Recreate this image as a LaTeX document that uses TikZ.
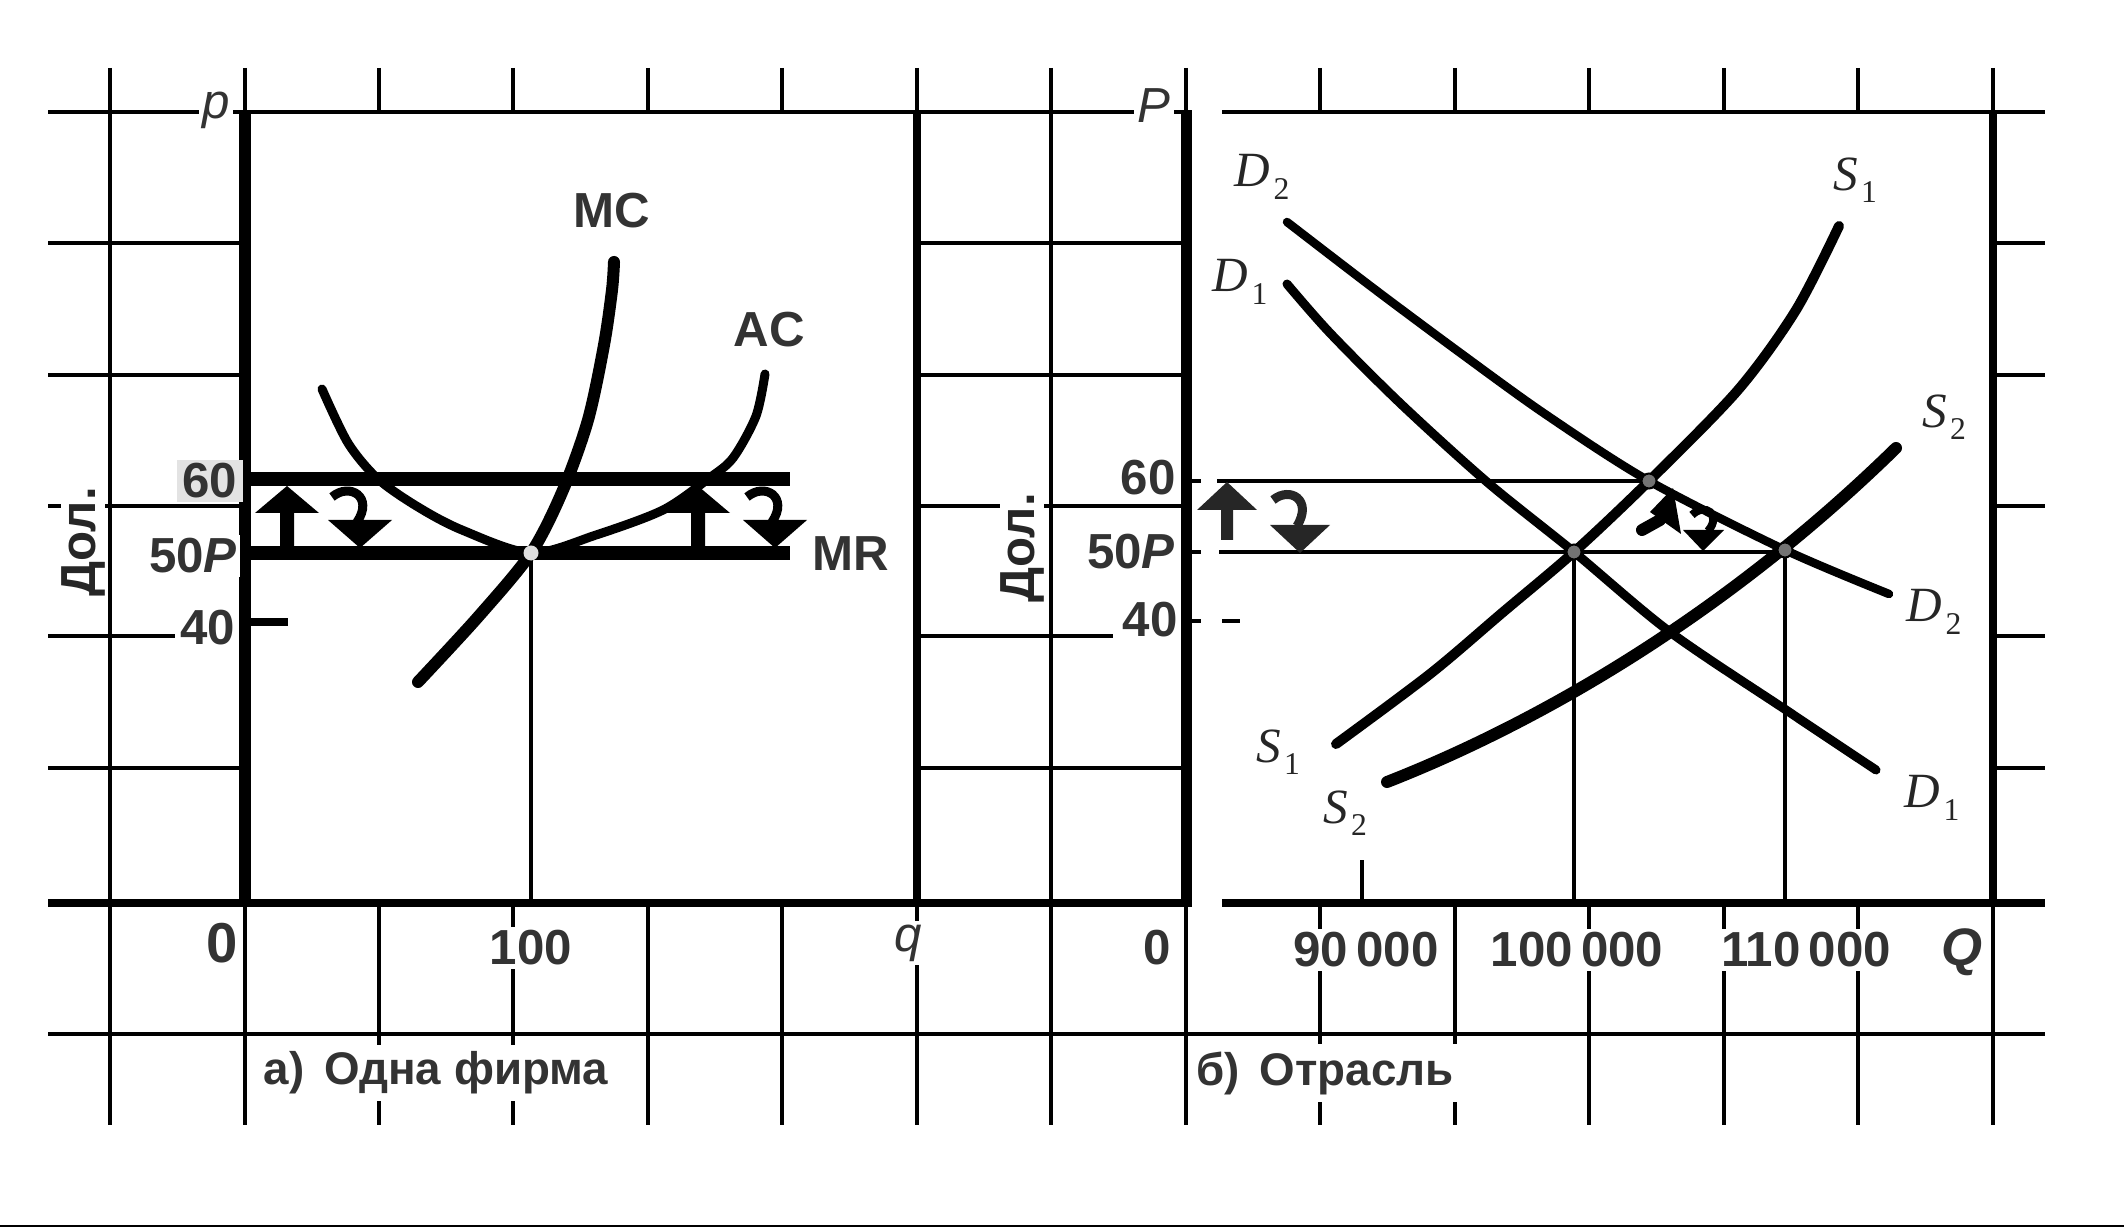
\documentclass[tikz,border=0pt]{standalone}
\usepackage{fontspec}
\setmainfont{Liberation Sans}
\newfontfamily\serifit{Liberation Serif}
\newcommand{\crv}[2]{#1\kern1pt\raisebox{-0.55ex}{\fontsize{9}{9}\selectfont\upshape #2}}
\tikzstyle{gridline}=[line width=0.045cm]
\tikzstyle{borderline}=[line width=0.075cm]
\tikzstyle{axisline}=[line width=0.11cm]
\tikzstyle{pricebar}=[line width=0.14cm]
\tikzstyle{guide}=[line width=0.045cm]
\tikzstyle{curve}=[line cap=round]
\tikzstyle{num}=[font=\fontsize{14}{14}\selectfont\bfseries, text=black!80, fill=white, inner sep=1pt]
\tikzstyle{costlab}=[font=\fontsize{14}{14}\selectfont\bfseries, text=black!80]
\tikzstyle{axislab}=[font=\fontsize{14}{14}\selectfont\itshape, text=black!80, fill=white, inner sep=1pt]
\tikzstyle{curvelab}=[font=\fontsize{14}{14}\selectfont\serifit\itshape, text=black!85]
\tikzstyle{unitlab}=[font=\fontsize{14}{14}\selectfont\bfseries, text=black!85, fill=white, inner sep=0pt, rotate=90]
\tikzstyle{caption}=[font=\fontsize{13}{13}\selectfont\bfseries, text=black!80, fill=white, inner sep=2pt]
\tikzstyle{firmpt}=[fill=gray!25]
\tikzstyle{marketpt}=[fill=black!55, draw=black, line width=0.02cm]

\begin{document}
\begin{tikzpicture}[x=0.01cm, y=-0.01cm]
	\useasboundingbox (0,0) rectangle (2124,1228);

	% Grid paper round the two panels
	\foreach \gx in {110, 245, 917, 1051, 1186, 1993}{ \draw[gridline] (\gx,68) -- (\gx,1125); }
	\foreach \gx in {379, 513, 648, 782, 1320, 1455, 1589, 1724, 1858}{
		\draw[gridline] (\gx,68) -- (\gx,112);
		\draw[gridline] (\gx,903) -- (\gx,1125);
	}
	\draw[gridline] (48,112) -- (1192,112);
	\draw[gridline] (1222,112) -- (2045,112);
	\draw[borderline] (48,903) -- (1192,903);
	\draw[borderline] (1222,903) -- (2045,903);
	\draw[gridline] (48,1034) -- (2045,1034);
	\foreach \gy in {243, 375, 506, 768}{
		\draw[gridline] (48,\gy) -- (245,\gy);
		\draw[gridline] (917,\gy) -- (1186,\gy);
		\draw[gridline] (1993,\gy) -- (2045,\gy);
	}
	\draw[gridline] (48,636) -- (175,636);
	\draw[gridline] (917,636) -- (1113,636);
	\draw[gridline] (1993,636) -- (2045,636);
	\draw[line width=0.025cm] (0,1226) -- (2124,1226);

	% Frames and ticks
	\draw[axisline] (245,112) -- (245,903);
	\draw[axisline] (1186,112) -- (1186,903);
	\draw[borderline] (917,112) -- (917,903);
	\draw[borderline] (1993,112) -- (1993,903);
	\draw[borderline] (245,622) -- (288,622);
	\foreach \ty in {481, 552, 621}{ \draw[gridline] (1186,\ty) -- (1201,\ty); }
	\draw[gridline] (1222,621) -- (1240,621);
	\draw[gridline] (1362,860) -- (1362,903);

	% a) One firm
	\node[axislab] (pa) at (216,110) {p};
	\node[num, fill=gray!22, minimum width=0.66cm, minimum height=0.42cm] (pa60) at (210,481) {60};
	\node[num] (pa50) at (193,556) {50\itshape P};
	\node[num] (pa40) at (208,628) {40};
	\node[num, font=\fontsize{16}{16}\selectfont\bfseries] (qa0) at (222,943) {0};
	\node[num] (qa100) at (531,948) {100};
	\node[axislab] (qa) at (908,943) {q};
	\node[unitlab] (unita) at (83,542) {Дол.};
	\node[caption] (capa) at (436,1073) {а)\, Одна фирма};

	\draw[pricebar] (245,479) -- (790,479);
	\draw[pricebar] (245,553) -- (790,553);
	\draw[guide] (531,553) -- (531,903);
	\draw[curve, line width=0.09cm] plot[smooth] coordinates {(322,389) (348,443) (378,479) (418,507) (462,530) (531,553) (596,535) (663,510) (708,479) (733,458) (756,416) (765,374)};
	\draw[curve, line width=0.12cm] plot[smooth] coordinates {(418,682) (478,617) (531,553) (563,490) (588,420) (604,345) (612,290) (614,262)};
	\fill[firmpt] (531,553) circle[radius=0.075cm];

	\node[costlab] (mc) at (612,211) {MC};
	\node[costlab] (ac) at (769,330) {AC};
	\node[costlab] (mr) at (851,554) {MR};

	\foreach \ax in {287, 698}{
		\fill (\ax-32,513) -- (\ax,486) -- (\ax+32,513) -- (\ax+7,513) -- (\ax+7,553) -- (\ax-7,553) -- (\ax-7,513) -- cycle;
	}
	\foreach \ax in {360, 775}{
		\draw[line width=0.09cm] (\ax-28,497) .. controls (\ax-10,482) and (\ax+14,497) .. (\ax-3,522);
		\fill (\ax-32,520) -- (\ax+32,520) -- (\ax,548) -- cycle;
	}

	% b) Industry
	\node[axislab] (pb) at (1154,106) {P};
	\node[num] (pb60) at (1148,478) {60};
	\node[num] (pb50) at (1131,552) {50\itshape P};
	\node[num] (pb40) at (1150,620) {40};
	\node[num] (qb0) at (1157,948) {0};
	\node[num] (qb90) at (1366,950) {90\,000};
	\node[num] (qb100) at (1577,950) {100\,000};
	\node[num] (qb110) at (1806,950) {110\,000};
	\node[axislab, font=\fontsize{15}{15}\selectfont\bfseries\itshape] (qb) at (1962,952) {Q};
	\node[unitlab] (unitb) at (1022,548) {Дол.};
	\node[caption] (capb) at (1325,1073) {б)\, Отрасль};

	\draw[guide] (1217,481) -- (1649,481);
	\draw[guide] (1219,552) -- (1785,552);
	\draw[guide] (1574,552) -- (1574,903);
	\draw[guide] (1785,550) -- (1785,903);

	\draw[curve, line width=0.085cm] plot[smooth] coordinates {(1287,222) (1373,288) (1459,352) (1545,414) (1649,481) (1785,550) (1889,594)};
	\draw[curve, line width=0.09cm] plot[smooth] coordinates {(1287,284) (1330,333) (1401,404) (1487,482) (1574,552) (1670,632) (1789,712) (1876,770)};
	\draw[curve, line width=0.10cm] plot[smooth] coordinates {(1336,744) (1430,674) (1502,613) (1574,552) (1649,481) (1738,390) (1796,310) (1839,226)};
	\draw[curve, line width=0.12cm] (1387,782) .. controls (1520,730) and (1712,628) .. (1896,448);

	\node[marketpt, circle, inner sep=0pt, minimum size=0.15cm] (e1) at (1574,552) {};
	\node[marketpt, circle, inner sep=0pt, minimum size=0.15cm] (e2) at (1649,481) {};
	\node[marketpt, circle, inner sep=0pt, minimum size=0.15cm] (e3) at (1785,550) {};

	\node[curvelab] (d2a) at (1262,177) {\crv{D}{2}};
	\node[curvelab] (d1a) at (1240,282) {\crv{D}{1}};
	\node[curvelab] (s1a) at (1855,180) {\crv{S}{1}};
	\node[curvelab] (s2a) at (1944,417) {\crv{S}{2}};
	\node[curvelab] (d2b) at (1934,612) {\crv{D}{2}};
	\node[curvelab] (d1b) at (1932,798) {\crv{D}{1}};
	\node[curvelab] (s1b) at (1278,752) {\crv{S}{1}};
	\node[curvelab] (s2b) at (1345,813) {\crv{S}{2}};

	\fill[black!85] (1197,510) -- (1227,482) -- (1257,510) -- (1233,510) -- (1233,540) -- (1221,540) -- (1221,510) -- cycle;
	\draw[black!85, line width=0.09cm] (1273,500) .. controls (1290,486) and (1313,500) .. (1297,526);
	\fill[black!85] (1270,525) -- (1330,525) -- (1300,553) -- cycle;
	\fill (1650,512) -- (1673,488) -- (1681,534) -- cycle;
	\draw[line width=0.12cm, line cap=round] (1660,520) -- (1642,530);
	\draw[line width=0.08cm] (1692,515) .. controls (1705,502) and (1722,515) .. (1708,531);
	\fill (1683,530) -- (1724,530) -- (1703,551) -- cycle;
\end{tikzpicture}
\end{document}
